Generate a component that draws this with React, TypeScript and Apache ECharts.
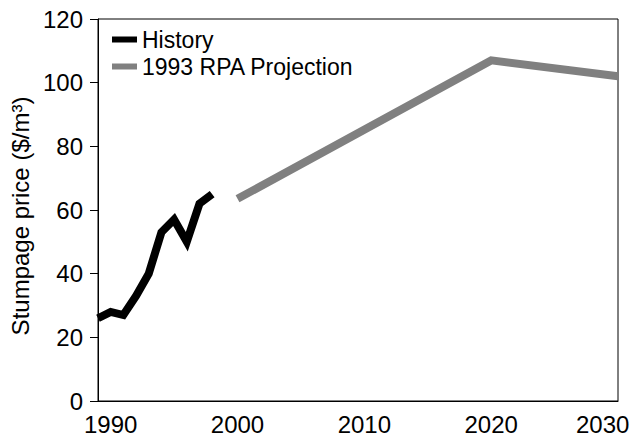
import React, { useEffect, useRef } from "react";
import * as echarts from "echarts";

const historyYears = [1989, 1990, 1991, 1992, 1993, 1994, 1995, 1996, 1997, 1998];
const historyValues = [26, 28, 27, 33, 40, 53, 57, 50, 62, 65];
const projectionYears = [2000, 2020, 2030];
const projectionValues = [63.5, 107, 102];
const xTickLabels = [1990, 2000, 2010, 2020, 2030];
const seriesNames = ["History", "1993 RPA Projection"];

const FONT = "'Liberation Sans', Arial, Helvetica, sans-serif";

export default function App() {
  const ref = useRef<HTMLDivElement>(null);
  useEffect(() => {
    if (!ref.current) return;
    const chart = echarts.init(ref.current, null, { renderer: "svg" });
    chart.setOption({
      animation: false,
      backgroundColor: "#fff",
      textStyle: { fontFamily: FONT },
      grid: {
        left: 98,
        right: 18,
        top: 19,
        bottom: 40,
        show: true,
        borderColor: "#000",
        borderWidth: 1,
        containLabel: false,
      },
      legend: {
        orient: "vertical",
        left: 107,
        top: 23,
        itemGap: 4,
        itemWidth: 25,
        itemHeight: 6,
        icon: "rect",
        data: seriesNames,
        textStyle: { fontSize: 23, color: "#000", fontFamily: FONT, lineHeight: 23 },
      },
      xAxis: {
        type: "value",
        min: 1989,
        max: 2030,
        axisLine: { show: true, lineStyle: { color: "#000", width: 1 } },
        axisTick: { show: false },
        splitLine: { show: false },
        axisLabel: {
          customValues: xTickLabels,
          fontSize: 24,
          color: "#000",
          fontFamily: FONT,
          margin: 11,
          formatter: (v: number) => (v === 2030 ? "{r|2030}" : String(v)),
          rich: {
            r: { width: 84, align: "left", fontSize: 24, color: "#000", fontFamily: FONT },
          },
        },
      },
      yAxis: {
        type: "value",
        min: 0,
        max: 120,
        interval: 20,
        name: "Stumpage price ($/m³)",
        nameLocation: "middle",
        nameRotate: 90,
        nameGap: 60,
        nameTextStyle: { fontSize: 24, color: "#000", fontFamily: FONT, padding: [0, 12, 0, 0] },
        axisLine: { show: true, lineStyle: { color: "#000", width: 1 } },
        axisTick: { show: true, inside: false, length: 8, lineStyle: { color: "#000" } },
        splitLine: { show: false },
        axisLabel: { fontSize: 24, color: "#000", fontFamily: FONT, margin: 15 },
      },
      series: [
        {
          name: seriesNames[0],
          type: "line",
          symbol: "none",
          data: historyYears.map((y, i) => [y, historyValues[i]]),
          lineStyle: { color: "#000", width: 8, join: "miter", cap: "butt" },
          itemStyle: { color: "#000" },
        },
        {
          name: seriesNames[1],
          type: "line",
          symbol: "none",
          data: projectionYears.map((y, i) => [y, projectionValues[i]]),
          lineStyle: { color: "#808080", width: 8, join: "miter", cap: "butt" },
          itemStyle: { color: "#808080" },
        },
      ],
    });
    return () => chart.dispose();
  }, []);
  return (
    <div
      ref={ref}
      style={{ position: "fixed", left: 0, top: 0, width: 636, height: 441 }}
    />
  );
}
